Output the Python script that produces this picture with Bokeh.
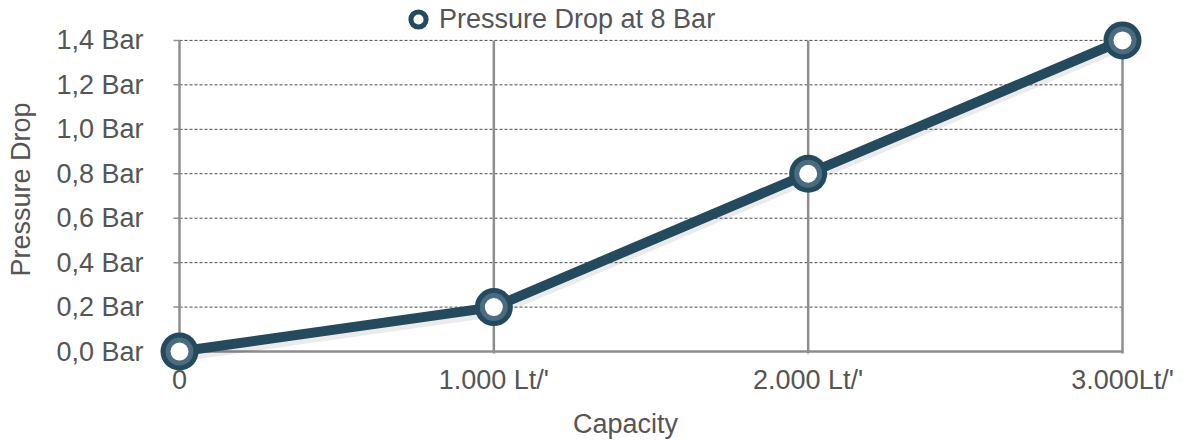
from bokeh.plotting import figure
from bokeh.models import FixedTicker, Legend, LegendItem, Range1d, ColumnDataSource
from bokeh.embed import file_html
from bokeh.resources import INLINE

# ---------------- data ----------------
capacity = [0, 1000, 2000, 3000]
pressure_drop = [0.0, 0.2, 0.8, 1.4]
series_name = "Pressure Drop at 8 Bar"

x_ticks = [0, 1000, 2000, 3000]
x_tick_labels = ["0", "1.000 Lt/'", "2.000 Lt/'", "3.000Lt/'"]
y_ticks = [0.0, 0.2, 0.4, 0.6, 0.8, 1.0, 1.2, 1.4]
y_tick_labels = ["0,0 Bar", "0,2 Bar", "0,4 Bar", "0,6 Bar",
                 "0,8 Bar", "1,0 Bar", "1,2 Bar", "1,4 Bar"]
x_title = "Capacity"
y_title = "Pressure Drop"

# ---------------- style / layout ----------------
FONT = "Liberation Sans"
FS = "27px"
TEXT = "#555555"
DARK = "#244a5e"
RING = "#4b6b7e"
AXIS_GRAY = "#8e8e8e"
DASH_GRAY = "#4a4a4a"

W, H = 1186, 441
FL, FR, FT, FB = 106, 1144, 0, 379          # frame box (canvas px)
X0PX, X1PX = 179, 1122                      # where first / last x tick sit
Y0PX, Y1PX = 352, 40                        # where first / last y tick sit

sx = (X1PX - X0PX) / (x_ticks[-1] - x_ticks[0])
sy = (Y0PX - Y1PX) / (y_ticks[-1] - y_ticks[0])
x_start = x_ticks[0] - (X0PX - FL) / sx
x_end = x_ticks[-1] + (FR - X1PX) / sx
y_start = y_ticks[0] - (FB - Y0PX) / sy
y_end = y_ticks[-1] + (Y1PX - FT) / sy

p = figure(width=W, height=H, output_backend="svg", toolbar_location=None,
           title=None,
           x_range=Range1d(x_start, x_end), y_range=Range1d(y_start, y_end),
           min_border_left=FL, min_border_right=W - FR,
           min_border_top=FT, min_border_bottom=H - FB)
p.outline_line_color = None
p.background_fill_color = "white"
p.border_fill_color = "white"
p.xgrid.visible = False
p.ygrid.visible = False

# axes: tick labels + titles only
for ax in (p.xaxis[0], p.yaxis[0]):
    ax.axis_line_color = None
    ax.major_tick_line_color = None
    ax.minor_tick_line_color = None
    ax.major_tick_in = 0
    ax.major_tick_out = 0
    ax.major_label_text_font = FONT
    ax.major_label_text_font_size = FS
    ax.major_label_text_color = TEXT
    ax.axis_label_text_font = FONT
    ax.axis_label_text_font_size = FS
    ax.axis_label_text_font_style = "normal"
    ax.axis_label_text_color = TEXT
p.xaxis.ticker = FixedTicker(ticks=x_ticks)
p.yaxis.ticker = FixedTicker(ticks=y_ticks)
p.xaxis.major_label_overrides = dict(zip(x_ticks, x_tick_labels))
p.yaxis.major_label_overrides = dict(zip(y_ticks, y_tick_labels))
p.xaxis.major_label_standoff = -14
p.yaxis.major_label_standoff = FL - 143
p.xaxis.axis_label = x_title
p.yaxis.axis_label = y_title
p.xaxis.axis_label_standoff = 11
p.yaxis.axis_label_standoff = 17

# grid: dashed horizontals, solid verticals, axis lines
xmin, xmax = x_ticks[0], x_ticks[-1]
ymin, ymax = y_ticks[0], y_ticks[-1]
stub = 6 / sx
p.segment(x0=[xmin] * (len(y_ticks) - 1), y0=y_ticks[1:],
          x1=[xmax] * (len(y_ticks) - 1), y1=y_ticks[1:],
          line_color=DASH_GRAY, line_width=1, line_dash="3 2")
p.segment(x0=[xmin - stub] * len(y_ticks), y0=y_ticks,
          x1=[xmin] * len(y_ticks), y1=y_ticks,
          line_color=AXIS_GRAY, line_width=1.5)
p.segment(x0=x_ticks, y0=[ymin - 2 / sy] * len(x_ticks),
          x1=x_ticks, y1=[ymax] * len(x_ticks),
          line_color=AXIS_GRAY, line_width=2.5)
p.segment(x0=[xmin], y0=[ymin], x1=[xmax], y1=[ymin],
          line_color=AXIS_GRAY, line_width=2.5)

# soft shadow under the series line
p.line(capacity, [v - 3 / sy for v in pressure_drop],
       line_color="black", line_alpha=0.08, line_width=14, line_join="round")

src = ColumnDataSource(dict(x=capacity, y=pressure_drop))

# legend glyph source (ring marker) - hidden under the big markers in the plot
leg_r = p.scatter("x", "y", source=src, size=12, fill_color="white",
                  line_color=DARK, line_width=5)

# series
p.line("x", "y", source=src, line_color=DARK, line_width=10, line_join="round")
p.scatter("x", "y", source=src, size=38, fill_color=DARK, line_color=None)
p.scatter("x", "y", source=src, size=28, fill_color=RING, line_color=None)
p.scatter("x", "y", source=src, size=18, fill_color="white", line_color=None)

LEG_CX, LEG_CY, GL = 418, 20, 38
legend = Legend(items=[LegendItem(label=series_name, renderers=[leg_r])],
                location=(LEG_CX - GL // 2 - FL, FB - (LEG_CY + GL // 2)),
                orientation="horizontal",
                glyph_width=GL, glyph_height=GL, label_standoff=2,
                padding=0, margin=0, spacing=0,
                border_line_color=None, background_fill_alpha=0,
                label_text_font=FONT, label_text_font_size=FS,
                label_text_color=TEXT)
p.add_layout(legend)

open("out.html", "w").write(file_html(p, INLINE))
